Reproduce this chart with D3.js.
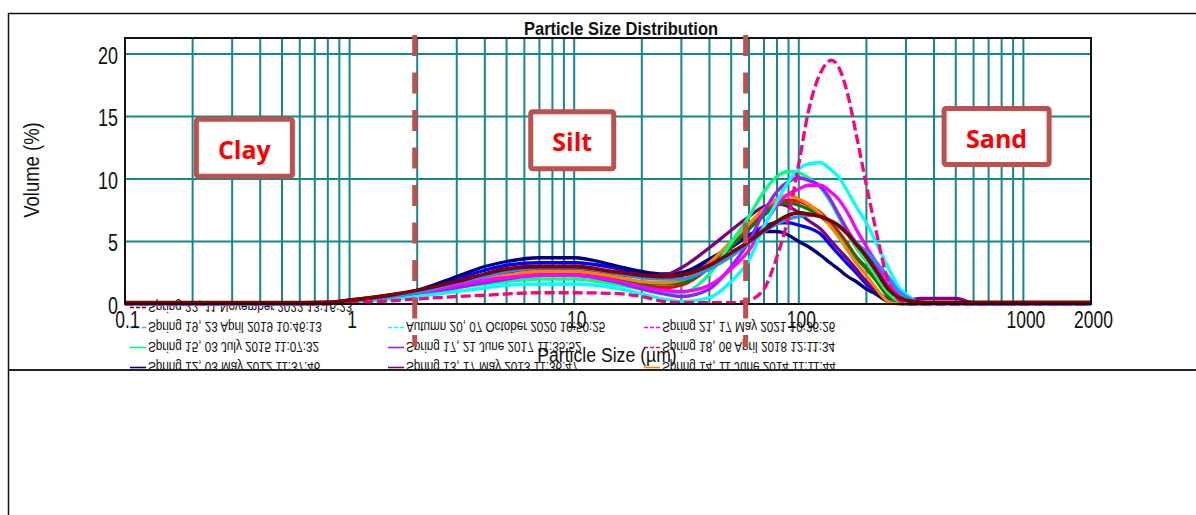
<!DOCTYPE html>
<html><head><meta charset="utf-8">
<script src="https://cdn.jsdelivr.net/npm/d3@7"></script>
<style>body{margin:0;background:#fff;} svg{display:block;}</style>
</head><body>
<svg id="c" width="1196" height="515"></svg>
<script>
// ---------------- DATA ----------------
const sizes = [0.1, 0.5, 0.8, 1, 1.5,
  2, 3, 4, 5, 7,
  10, 15, 20, 25, 30,
  40, 50, 60, 70, 80,
  90, 100, 110, 125, 140,
  150, 165, 180, 200, 220,
  250, 280, 300, 350, 400,
  500, 600, 1000, 2000];

const spring12 = [0,0,0.1,0.3,0.7, 1.1,2.2,3.0,3.4,3.7, 3.7,3.1,2.6,2.4,2.5, 3.6,4.6,5.5,5.8,5.8, 5.5,5.0,4.6,3.9,3.2, 2.8,2.2,1.8,1.2,0.8, 0.2,0.05,0,0,0, 0,0,0,0];
const blueRun  = [0,0,0.1,0.3,0.6, 1.0,2.0,2.7,3.1,3.3, 3.3,2.9,2.4,2.3,2.5, 3.4,4.5,5.5,6.2,6.5, 6.5,6.3,6.1,5.6,4.6, 4.0,3.2,2.5,1.6,1.0, 0.3,0.05,0,0,0, 0,0,0,0];
const redRun   = [0,0,0.1,0.2,0.45, 0.75,1.4,1.9,2.2,2.4, 2.4,2.0,1.5,1.3,1.5, 2.9,4.6,6.2,7.4,8.1, 8.3,8.2,7.9,7.3,6.4, 5.8,4.8,3.8,2.9,2.0, 0.7,0.1,0,0,0, 0,0,0,0];
const greenRun = [0,0,0.1,0.2,0.45, 0.75,1.4,1.9,2.1,2.3, 2.3,2.0,1.6,1.6,1.7, 3.0,4.6,6.0,7.1,7.9, 8.1,7.9,7.6,7.0,6.2, 5.6,4.6,3.7,2.8,1.9, 0.6,0.1,0,0,0, 0,0,0,0];
const spring13 = [0,0,0.1,0.25,0.55, 0.9,1.6,2.1,2.4,2.7, 2.7,2.4,2.2,2.3,2.9, 4.5,5.9,7.0,7.8,8.0, 7.8,7.3,6.7,6.0,5.0, 4.4,3.6,2.8,1.8,1.1, 0.4,0.3,0.3,0.45,0.45, 0.45,0.1,0.05,0];
const spring14 = [0,0,0.1,0.2,0.5, 0.8,1.5,2.0,2.3,2.6, 2.6,2.2,1.8,1.7,1.9, 3.3,5.0,6.4,7.6,8.4, 8.7,8.4,8.0,7.2,6.1, 5.4,4.3,3.3,2.3,1.3, 0.2,0,0,0,0, 0,0,0,0];
const spring15 = [0,0,0.05,0.2,0.45, 0.7,1.3,1.6,1.8,2.0, 2.0,1.6,1.2,0.9,0.9, 2.4,4.9,7.0,9.0,10.2, 10.6,10.5,10.1,9.3,8.0, 7.0,5.6,4.5,3.4,2.3, 0.9,0.2,0,0,0, 0,0,0,0];
const spring17 = [0,0,0.05,0.2,0.45, 0.7,1.3,1.7,2.0,2.3, 2.3,1.8,1.2,0.8,0.6, 1.2,3.0,5.0,7.4,9.0, 9.8,10.1,9.9,9.4,8.2, 7.2,5.9,4.9,4.0,3.0, 1.5,0.6,0.3,0.1,0.05, 0,0,0,0];
const spring18 = [0,0,0,0.1,0.25, 0.4,0.6,0.7,0.8,0.9, 0.9,0.85,0.6,0.2,0.1, 0.1,0.1,0.3,1.2,3.8, 7.0,11.2,15.3,18.5,19.5, 19.0,16.8,13.6,9.5,6.0, 1.8,0.3,0,0,0, 0,0,0,0];
const spring19 = [0,0,0.1,0.25,0.55, 0.9,1.7,2.2,2.6,2.9, 2.9,2.5,2.1,2.0,2.0, 2.8,3.8,4.9,5.8,6.4, 6.8,7.0,7.1,7.0,6.6, 6.2,5.6,4.9,4.2,3.4, 2.2,1.0,0.6,0.1,0.05, 0.05,0,0,0];
const autumn20 = [0,0,0.05,0.15,0.35, 0.6,1.0,1.3,1.5,1.6, 1.6,1.3,0.8,0.4,0.2, 0.5,1.8,3.5,6.2,8.2, 9.8,10.8,11.2,11.3,10.7, 10.2,9.0,7.8,6.5,5.0, 2.9,1.3,0.8,0.05,0, 0,0,0,0];
const spring21 = [0,0,0.05,0.2,0.5, 0.8,1.5,1.9,2.1,2.3, 2.3,1.9,1.4,1.1,1.0, 1.5,2.8,4.3,6.3,7.9, 8.8,9.2,9.5,9.5,8.9, 8.4,7.3,6.0,4.6,3.4, 2.0,0.8,0.3,0.05,0, 0,0,0,0];
const spring22 = [0.1,0.1,0.15,0.3,0.7, 1.1,1.8,2.4,2.8,3.0, 3.0,2.6,2.3,2.2,2.3, 3.1,4.1,5.0,5.9,6.6, 7.1,7.3,7.2,7.0,6.6, 6.3,5.6,4.8,3.8,2.7, 1.2,0.5,0.3,0.15,0.12, 0.12,0.12,0.12,0.12];

// drawing order (bottom to top)
const seriesNames  = ["blue run","spring12","spring13","red run","green run","spring14","spring15","spring17","spring21","autumn20","spring19","spring18","spring22"];
const seriesValues = [blueRun, spring12, spring13, redRun, greenRun, spring14, spring15, spring17, spring21, autumn20, spring19, spring18, spring22];
const seriesColors = ["#0000ff","#000080","#800080","#ff0000","#008000","#ff8000","#00ff80","#9020ff","#ff00ff","#00ffff","#1e90ff","#ff0080","#800000"];
const seriesDashed = [false,false,false,false,false,false,false,false,false,false,false,true,false];

// legend (original order, three columns; drawn vertically mirrored)
const legendLabels = ["Spring 12, 03 May 2012 11:37:46","Spring 13, 17 May 2013 11:36:47","Spring 14, 11 June 2014 11:11:44",
  "Spring 15, 03 July 2015 11:07:32","Spring 17, 21 June 2017 11:35:52","Spring 18, 06 April 2018 12:11:34",
  "Spring 19, 23 April 2019 10:46:13","Autumn 20, 07 October 2020 10:50:25","Spring 21, 17 May 2021 10:36:26",
  "Spring 22, 11 November 2022 13:16:23"];
const legendColors = ["#000080","#800080","#ff8000","#00ff80","#9020ff","#ff0080","#4da6ff","#00ffff","#ff00ff","#800000"];
const legendDashed = [false,false,false,false,false,true,true,true,true,true];

const xTickVals = [0.1, 1, 10, 100, 1000, 2000];
const xTickLabels = ["0.1","1","10","100","1000","2000"];
const yTickVals = [0, 5, 10, 15, 20];
const boundaries = [1.95, 58];
const classNames = ["Clay","Silt","Sand"];
const classX = [0.34, 9.8, 760];
const classY = [12.5, 13.1, 13.4];

// ---------------- LAYOUT ----------------
const W = 1196, H = 515;
const L = 125, R = 1091, T = 38, B = 304;
const svg = d3.select("#c");
const x = d3.scaleLog().domain([0.1, 2000]).range([L, R]);
const y = d3.scaleLinear().domain([0, 21.28]).range([B, T]);
const FONT = "'Liberation Sans', Arial, sans-serif";
const TEAL = "#12898a", BRICK = "#c0504d";

svg.append("rect").attr("width", W).attr("height", H).attr("fill", "#fff");
const defs = svg.append("defs");
defs.append("clipPath").attr("id", "top").append("rect").attr("x", 0).attr("y", 0).attr("width", W).attr("height", 369);
defs.append("clipPath").attr("id", "plot").append("rect").attr("x", L).attr("y", T).attr("width", R - L).attr("height", B - T + 2);

const g = svg.append("g").attr("clip-path", "url(#top)");

// grid
g.append("g").selectAll("line").data(x.ticks()).join("line")
  .attr("x1", d => x(d)).attr("x2", d => x(d)).attr("y1", T).attr("y2", B)
  .attr("stroke", TEAL).attr("stroke-width", 2);
g.append("g").selectAll("line").data(yTickVals.filter(v => v > 0)).join("line")
  .attr("x1", L).attr("x2", R).attr("y1", d => y(d)).attr("y2", d => y(d))
  .attr("stroke", TEAL).attr("stroke-width", 2);

// legend (mirrored vertically)
const colX = [130, 388, 644];
const rowBase = [302, 322, 342, 362];
const leg = g.append("g");
legendLabels.forEach((lab, i) => {
  const col = i % 3, row = 3 - Math.floor(i / 3);
  const by = rowBase[row];
  leg.append("line").attr("x1", colX[col]).attr("x2", colX[col] + 16)
    .attr("y1", by + 5.5).attr("y2", by + 5.5)
    .attr("stroke", legendColors[i]).attr("stroke-width", 1.6)
    .attr("stroke-dasharray", legendDashed[i] ? "4,2" : null);
  leg.append("text").attr("transform", `translate(${colX[col] + 18},${by}) scale(0.82,-1.02)`)
    .attr("font-family", FONT).attr("font-size", 14.3).attr("fill", "#111").text(lab);
});

// curves
const line = d3.line().x((d, i) => x(sizes[i])).y(d => y(d)).curve(d3.curveMonotoneX);
const cg = g.append("g").attr("clip-path", "url(#plot)");
seriesValues.forEach((vals, k) => {
  cg.append("path").attr("d", line(vals)).attr("fill", "none")
    .attr("stroke", seriesColors[k])
    .attr("stroke-width", seriesNames[k] === "spring22" ? 3.8 : 3.3)
    .attr("stroke-linejoin", "round")
    .attr("stroke-dasharray", seriesDashed[k] ? "10,4" : null);
});

// plot frame
g.append("rect").attr("x", L).attr("y", T).attr("width", R - L).attr("height", B - T)
  .attr("fill", "none").attr("stroke", "#111").attr("stroke-width", 2);

// axes
const gx = g.append("g").attr("transform", `translate(0,${B})`)
  .call(d3.axisBottom(x).tickValues(xTickVals).tickFormat((d, i) => xTickLabels[i]).tickSize(0).tickPadding(8));
gx.select(".domain").remove();
gx.attr("font-family", FONT).attr("font-size", 23);
gx.selectAll("text").attr("fill", "#111").attr("transform", "translate(2,0) scale(0.76,1)");

const gy = g.append("g").attr("transform", `translate(${L},0)`)
  .call(d3.axisLeft(y).tickValues(yTickVals).tickSize(0).tickPadding(9));
gy.select(".domain").remove();
gy.attr("font-family", FONT).attr("font-size", 23);
gy.selectAll("text").attr("fill", "#111").attr("dy", "0.41em").attr("transform", "scale(0.78,1)");

// titles
g.append("text").attr("transform", "translate(621,35) scale(0.915,1)").attr("text-anchor", "middle")
  .attr("font-family", FONT).attr("font-weight", "bold").attr("font-size", 18).attr("fill", "#111")
  .text("Particle Size Distribution");
g.append("text").attr("transform", "translate(38.5,170) rotate(-90) scale(0.84,1)").attr("text-anchor", "middle")
  .attr("font-family", FONT).attr("font-size", 22).attr("fill", "#111").text("Volume (%)");
g.append("text").attr("transform", "translate(607,362) scale(0.84,1)").attr("text-anchor", "middle")
  .attr("font-family", FONT).attr("font-size", 21).attr("fill", "#111").text("Particle Size (µm)");

// class boundaries
g.append("g").selectAll("line").data(boundaries).join("line")
  .attr("x1", d => x(d)).attr("x2", d => x(d)).attr("y1", 35).attr("y2", 347)
  .attr("stroke", BRICK).attr("stroke-width", 5).attr("stroke-dasharray", "21,16.5");

// class boxes
const boxW = [96, 83, 105], boxH = [57, 57, 56];
classNames.forEach((nm, i) => {
  const cx = x(classX[i]), cy = y(classY[i]);
  g.append("rect").attr("x", cx - boxW[i] / 2).attr("y", cy - boxH[i] / 2)
    .attr("width", boxW[i]).attr("height", boxH[i]).attr("rx", 2)
    .attr("fill", "#fff").attr("stroke", BRICK).attr("stroke-width", 5);
  g.append("text").attr("x", cx).attr("y", cy + 11).attr("text-anchor", "middle")
    .attr("font-family", "'Open Sans', 'Noto Sans', sans-serif").attr("font-weight", "bold")
    .attr("font-size", 25).attr("fill", "#ff0000").text(nm);
});

// outer frame lines
svg.append("line").attr("x1", 8).attr("x2", W).attr("y1", 13.5).attr("y2", 13.5).attr("stroke", "#111").attr("stroke-width", 1.5);
svg.append("line").attr("x1", 8.5).attr("x2", 8.5).attr("y1", 13).attr("y2", H).attr("stroke", "#111").attr("stroke-width", 1.5);
svg.append("line").attr("x1", 8).attr("x2", W).attr("y1", 370).attr("y2", 370).attr("stroke", "#222").attr("stroke-width", 2);
</script>
</body></html>
